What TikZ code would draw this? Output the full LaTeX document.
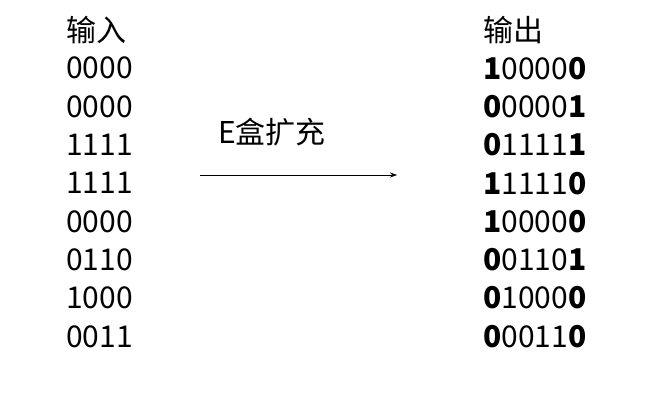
\documentclass[tikz,border=0pt]{standalone}
\usepackage{fontspec}
\setmainfont{Noto Sans CJK SC}
\usetikzlibrary{arrows.meta}
\begin{document}
\begin{tikzpicture}[x=1pt,y=-1pt,
  txt/.style={anchor=west,inner sep=0pt,font=\fontsize{30}{33}\selectfont}]
\useasboundingbox (0,0) rectangle (651,409);
\node[txt] (in) at (66,30) {输入};
\node[txt] (out) at (483,30) {输出};
\foreach \a/\i in {0000/1,0000/2,1111/3,1111/4,0000/5,0110/6,1000/7,0011/8}{
  \node[txt] (l\i) at (66,{30+38.3*\i}) {\a};
}
\foreach \b/\m/\e/\i in {1/0000/0/1,0/0000/1/2,0/1111/1/3,1/1111/0/4,1/0000/0/5,0/0110/1/6,0/1000/0/7,0/0011/0/8}{
  \node[txt] (r\i) at (483,{30+38.3*\i}) {\textbf{\b}\m\textbf{\e}};
}
\node[txt] (lab) at (218,132) {E盒扩充};
\coordinate (a1) at (200,175);
\coordinate (a2) at (397,175);
\draw[-{Stealth[length=7pt,width=5pt]}] (a1) -- (a2);
\end{tikzpicture}
\end{document}
